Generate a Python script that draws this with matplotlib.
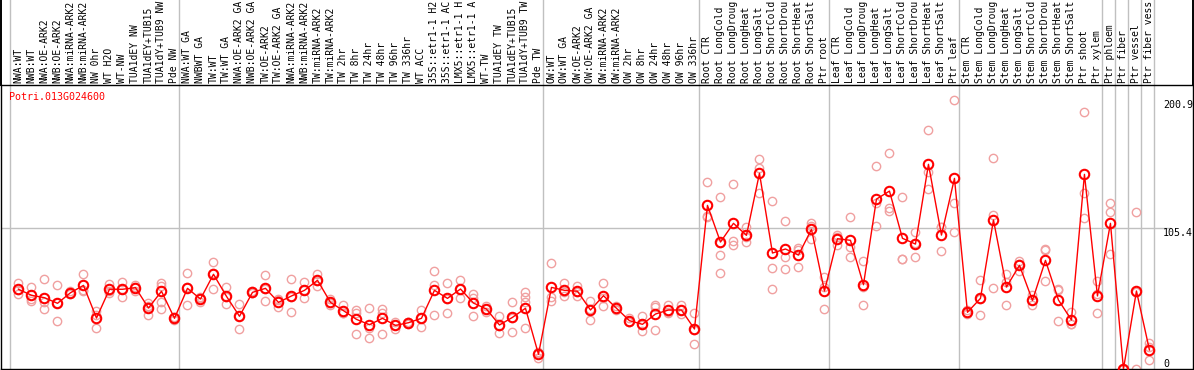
import matplotlib
matplotlib.use("Agg")
import matplotlib.pyplot as plt
import matplotlib.transforms as mtransforms

# nomes das amostras
labels = [
    "NWA:WT", "NWB:WT", "NWA:OE-ARK2", "NWB:OE-ARK2", "NWA:miRNA-ARK2", "NWB:miRNA-ARK2",
    "NW 0hr", "WT H2O", "WT-NW", "TUA1dEY NW", "TUA1dEY+TUB15 NW", "TUA1dY+TUB9 NW", "Pde NW",
    "NWA:WT GA", "NWBWT GA", "TW:WT", "TW:WT GA", "NWA:OE-ARK2 GA", "NWB:OE-ARK2 GA",
    "TW:OE-ARK2", "TW:OE-ARK2 GA", "NWA:miRNA-ARK2 GA", "NWB:miRNA-ARK2 GA", "TW:miRNA-ARK2",
    "TW:miRNA-ARK2", "TW 2hr", "TW 8hr", "TW 24hr", "TW 48hr", "TW 96hr", "TW 336hr", "WT ACC",
    "35S::etr1-1 H2O", "35S::etr1-1 ACC", "LMX5::etr1-1 H2O", "LMX5::etr1-1 ACC", "WT-TW",
    "TUA1dEY TW", "TUA1dEY+TUB15 TW", "TUA1dY+TUB9 TW", "Pde TW",
    "OW:WT", "OW:WT GA", "OW:OE-ARK2", "OW:OE-ARK2 GA", "OW:miRNA-ARK2", "OW:miRNA-ARK2",
    "OW 2hr", "OW 8hr", "OW 24hr", "OW 48hr", "OW 96hr", "OW 336hr",
    "Root CTR", "Root LongCold", "Root LongDrought", "Root LongHeat", "Root LongSalt",
    "Root ShortCold", "Root ShortDrought", "Root ShortHeat", "Root ShortSalt", "Ptr root",
    "Leaf CTR", "Leaf LongCold", "Leaf LongDrought", "Leaf LongHeat", "Leaf LongSalt",
    "Leaf ShortCold", "Leaf ShortDrought", "Leaf ShortHeat", "Leaf ShortSalt", "Ptr leaf",
    "Stem CTR", "Stem LongCold", "Stem LongDrought", "Stem LongHeat", "Stem LongSalt",
    "Stem ShortCold", "Stem ShortDrought", "Stem ShortHeat", "Stem ShortSalt", "Ptr shoot",
    "Ptr xylem", "Ptr phloem", "Ptr fiber", "Ptr vessel", "Ptr fiber vessel",
]

# médias
means = [
    59.6, 55.1, 53.3, 49.1, 57.0, 62.5, 38.1, 59.6, 59.6, 60.8, 45.6, 58.1, 37.9,
    60.3, 52.3, 70.8, 54.3, 39.4, 57.3, 60.3, 49.8, 54.6, 58.8, 66.3, 49.8, 43.6, 37.1,
    33.1, 37.9, 32.6, 34.6, 37.9, 58.8, 52.8, 59.8, 49.3, 44.8, 32.9, 38.6, 45.4, 11.0,
    61.0, 58.8, 58.1, 44.1, 54.8, 45.4, 36.1, 33.4, 41.1, 44.1, 44.1, 29.9,
    122.3, 94.9, 108.9, 99.9, 146.3, 86.7, 89.7, 85.2, 104.4, 58.3,
    97.4, 96.2, 63.0, 127.0, 133.0, 97.7, 93.4, 153.0, 100.1, 142.5,
    42.4, 52.8, 111.4, 61.3, 77.5, 51.3, 81.2, 51.6, 36.6, 145.5, 54.6,
    108.9, 0.0, 58.3, 14.2,
]

# réplicas
reps = [
    [64, 59, 56], [61, 52, 51], [67, 50, 45], [63, 49, 36], [58, 56, 57], [71, 58, 59],
    [31, 40, 43], [63.5, 57, 58.5], [65, 53.6, 60], [63, 58, 61], [49.6, 40, 47],
    [64, 62, 50, 45], [39, 37, 38],
    [72, 48, 61], [54, 50, 53], [80, 72, 60], [61, 48.4, 53.5], [48.8, 29.9, 39.5],
    [58.5, 56.5, 57], [70, 50.8, 60], [51.5, 46, 52], [67, 42.6, 54], [64.8, 52.8, 58.8],
    [70.8, 62, 66], [52, 48, 49.5], [48, 41.5, 41.5], [44, 42, 26], [45.4, 22.9, 31],
    [45, 42, 26], [35, 30, 33], [35, 34, 35], [44, 31.6, 38], [73, 63, 40.4],
    [64, 41.8, 52.6], [66.3, 53.3, 60], [56, 53, 39.8], [47, 42.5, 45], [39.6, 26.9, 32.3],
    [50, 27.7, 38], [57.5, 54, 50, 30.6], [13, 8, 12],
    [79, 54, 50.8], [64, 54.8, 57.6], [62, 54.8, 57.5], [50.8, 36.6, 45], [64.3, 47, 53],
    [47, 44, 45], [38, 35, 35.5], [39.4, 28.2, 32.6], [48, 46, 29], [48, 42, 42.3],
    [47.5, 41, 44], [42, 18.5, 29.2],
    [139.5, 113.6, 114], [128.5, 85.2, 71.7, 94], [138, 96, 93], [106.4, 94.7, 98.6],
    [156.7, 150, 131.3], [125.3, 75.3, 59.6], [110.4, 83.7, 74.5], [89, 76, 90.6],
    [109, 97, 107], [69, 44.6, 61],
    [100, 99, 93], [113.6, 83.7, 91.3], [80.5, 47.6, 61], [151.5, 123.8, 106.9],
    [161.7, 120.3, 117.8], [128.5, 82.4, 82], [102.4, 83.7, 94.1], [178.4, 147, 134.5],
    [106.1, 88, 106.2], [200.9, 123.8, 102.2],
    [44, 41, 42], [66.5, 40.1, 52], [157.7, 115, 60.3], [70.8, 65, 47.8], [80.7, 73, 78.8],
    [55, 47.6, 51.3], [89.7, 89, 65.8], [59.6, 35.9, 59.3], [42.4, 33.4, 34],
    [191.9, 131.3, 112.6], [65.8, 41.6, 56.4],
    [123.8, 117.1, 85.7], [0, 0, 0], [117.1, 0, 57.8], [19.2, 6.7, 16.7],
]

# início de cada grupo
group_starts = [0, 13, 41, 53, 63, 73, 84, 85, 86, 87, 88]

gene = "Potri.013G024600"
ytick_vals = [200.9, 105.4, 0]

mono = "DejaVu Sans Mono"
fs = 7.2

fig = plt.figure(figsize=(11.94, 3.70), dpi=100)
ax = fig.add_axes([1 / 1194, 1 / 370, 1192 / 1194, 284 / 370])
ax.set_xlim(-1.346, 90.35)
ax.set_ylim(0, 212.3)
ax.set_xticks([])
ax.set_yticks([])
for s in ax.spines.values():
    s.set_color("black")
    s.set_linewidth(1.0)

# linhas separadoras (atravessam o cabeçalho)
for g in group_starts:
    ax.axvline(g - 0.65, ymin=0, ymax=1.31, color="#c0c0c0", lw=1.0, clip_on=False, zorder=1)
for xb in [-1.346, 90.35]:
    ax.axvline(xb, ymin=1, ymax=1.31, color="black", lw=1.4, clip_on=False, zorder=3)

trans = mtransforms.blended_transform_factory(ax.transData, ax.transAxes)
ax.plot([-1.346, 88.6], [105.4, 105.4], color="#c0c0c0", lw=1.0, zorder=1)

# réplicas
for i, r in enumerate(reps):
    ax.plot([i] * len(r), r, "o", ms=6.0, mfc="none", mec="#f0a0a0", mew=1.0, zorder=2)

# médias
ax.plot(range(len(means)), means, "-", color="red", lw=1.0, zorder=3)
ax.plot(range(len(means)), means, "o", ms=6.8, mfc="none", mec="red", mew=1.5, zorder=4)

# rótulos das amostras (só cabem ~14 caracteres no cabeçalho)
for i, lab in enumerate(labels):
    ax.text(i, 1.006, lab[:14].rstrip(), transform=trans, rotation=90, ha="center",
            va="bottom", family=mono, fontsize=7.0, color="black")

ax.text(-0.7, 0.958, gene, transform=trans, ha="left", va="center",
        family=mono, fontsize=fs, color="red")

for v in ytick_vals:
    ax.text(88.05, v, f"{v:g}", ha="left", va="bottom" if v == 0 else "top",
            family=mono, fontsize=fs, color="black")

fig.savefig("out.png", dpi=100)
